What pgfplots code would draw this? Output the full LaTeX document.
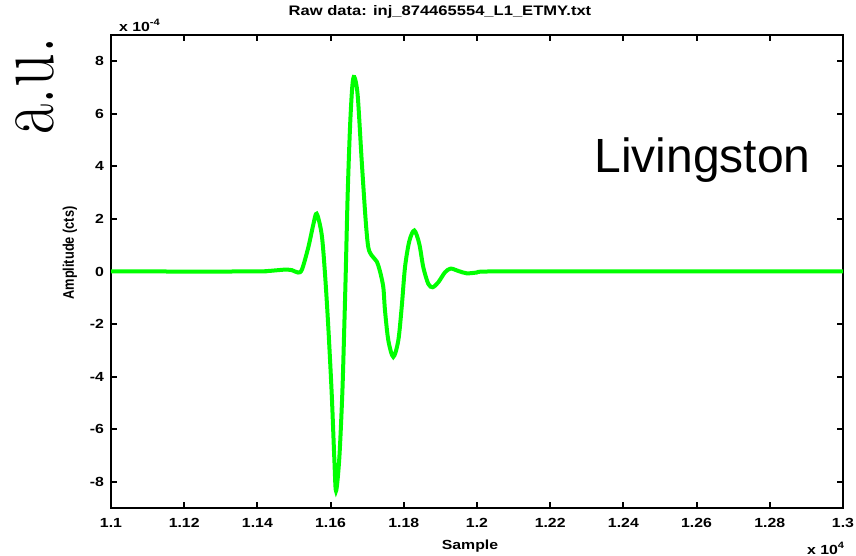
\documentclass[border=0pt]{standalone}
\usepackage{pgfplots}
\pgfplotsset{compat=1.18}
\usepackage{fontspec}
\newfontfamily\mfont[FakeStretch=1.2]{Liberation Sans Bold}
\newfontfamily\lfont{Liberation Sans}
\newfontfamily\lbfont{Liberation Sans Bold}
\newcommand{\mf}{\mfont\fontsize{6.6}{8}\selectfont}
\begin{document}
\begin{tikzpicture}[x=1pt,y=1pt]
\path[use as bounding box] (-55.5,-24) rectangle (372.5,254);
\begin{axis}[at={(0,0)}, anchor=south west, scale only axis,
  width=366pt, height=236.5pt,
  xmin=1.1, xmax=1.3, ymin=-9, ymax=9,
  xtick={1.1,1.12,1.14,1.16,1.18,1.2,1.22,1.24,1.26,1.28,1.3},
  xticklabels={1.1,1.12,1.14,1.16,1.18,1.2,1.22,1.24,1.26,1.28,1.3},
  ytick={-8,-6,-4,-2,0,2,4,6,8},
  yticklabels={-8,-6,-4,-2,0,2,4,6,8},
  tick align=inside, major tick length=3pt,
  axis line style={line width=1pt},
  every tick/.style={black, line width=1pt},
  xticklabel style={font=\mf, yshift=-1.5pt},
  yticklabel style={font=\mf},
]
\addplot[color={rgb,255:red,0;green,255;blue,0}, line width=2pt, smooth, tension=0.5] coordinates {
(1.1,0) (1.13798,0) (1.14208,0.01) (1.14481,0.04) (1.14754,0.07) (1.14945,0.05)
(1.15109,-0.04) (1.15219,0.08) (1.15391,0.92) (1.15527,1.78) (1.1562,2.2)
(1.15757,1.40) (1.15847,-0.09) (1.15937,-2.11) (1.1603,-4.64) (1.16101,-7.1)
(1.16148,-8.35) (1.16238,-7.1) (1.1632,-4.64) (1.16374,-2.11) (1.16413,-0.09)
(1.16467,2.95) (1.1653,5.47) (1.16593,7.05) (1.16648,7.4) (1.1674,6.7)
(1.1685,4.21) (1.16959,1.93) (1.1703,0.92) (1.17123,0.61) (1.1726,0.38)
(1.1735,0.0) (1.1744,-0.6) (1.17486,-1.48) (1.17577,-2.62) (1.17713,-3.25)
(1.1785,-2.62) (1.17943,-1.35) (1.18033,0.16) (1.1815,1.15) (1.18287,1.56)
(1.18423,1.05) (1.18533,0.16) (1.18669,-0.47) (1.18789,-0.6) (1.18943,-0.41)
(1.19126,-0.03) (1.19281,0.11) (1.19489,0.02) (1.19719,-0.07) (1.19992,-0.04)
(1.20309,0) (1.23,0) (1.3,0)
};
\end{axis}
\node[font=\mfont\fontsize{6.9}{8}\selectfont] at (164.5,248) {Raw data: inj\_874465554\_L1\_ETMY.txt};
\node[font=\mf, anchor=west] at (0.5,241.5) {x 10\textsuperscript{-4}};
\node[font=\mf] at (179.5,-19) {Sample};
\node[font=\mf, anchor=west] at (344.5,-20) {x 10\textsuperscript{4}};
\node[rotate=90] at (-20.5,127.5) {\scalebox{1}[1.2]{\lbfont\fontsize{6.4}{8}\selectfont Amplitude (cts)}};
\node[anchor=base, font=\lfont\fontsize{24}{28}\selectfont] at (295.75,167.5) {Livingston};
\node[rotate=90, inner sep=0pt] at (-38,211) {\scalebox{1}[1.3]{\fontsize{33}{36}\selectfont a.u.}};
\end{tikzpicture}
\end{document}
